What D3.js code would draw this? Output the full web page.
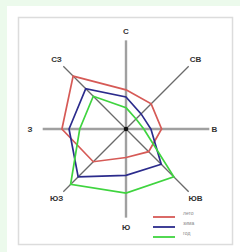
<!DOCTYPE html>
<html>
<head>
<meta charset="utf-8">
<script src="https://cdn.jsdelivr.net/npm/d3@7"></script>
<style>
  html, body { margin: 0; padding: 0; background: #ecfaec; }
  #chart { width: 240px; height: 252px; }
  text { font-family: "Liberation Sans", Arial, sans-serif; }
</style>
</head>
<body>
<div id="chart"></div>
<script>
  // Wind rose, % of observations by direction
  var directions = ["С", "СВ", "В", "ЮВ", "Ю", "ЮЗ", "З", "СЗ"];
  var summer = [11, 10, 10, 9, 8, 13, 18, 21];   // лето
  var winter = [9, 6, 7, 14, 13, 19, 16, 16];     // зима
  var year   = [6, 4, 5, 19, 18, 22, 13, 13];     // год
  var seriesNames = ["лето", "зима", "год"];
  var seriesColors = ["#d65a56", "#2b2b8c", "#3fd43f"];

  var width = 240, height = 252;
  var cx = 126, cy = 129;

  var svg = d3.select("#chart").append("svg")
      .attr("width", width)
      .attr("height", height);

  // white panel + framed box
  svg.append("rect")
    .attr("x", 7).attr("y", 6)
    .attr("width", width - 7).attr("height", height - 6)
    .attr("fill", "#fff");
  svg.append("rect")
    .attr("x", 18.5).attr("y", 17.5)
    .attr("width", 214).attr("height", 227)
    .attr("fill", "#fff")
    .attr("stroke", "#dcdcdc")
    .attr("stroke-width", 1.5);

  var r = d3.scaleLinear().domain([0, 25]).range([0, 89]);
  var angle = d3.scalePoint().domain(directions).range([0, 2 * Math.PI * 7 / 8]);

  var g = svg.append("g").attr("transform", "translate(" + cx + "," + cy + ")");

  const px = (d, v) => r(v) * Math.sin(angle(d));
  const py = (d, v) => -r(v) * Math.cos(angle(d));
  // east-west axis is drawn a little shorter
  const axisLen = d => (d === "В" || d === "З") ? 23.4 : 24.9;
  const labelPos = d => d === "В" ? 24.8 : (d === "З" ? 27 : 27.6);

  g.selectAll(".axis")
    .data(directions)
    .enter().append("line")
      .attr("class", "axis")
      .attr("x1", 0).attr("y1", 0)
      .attr("x2", d => px(d, axisLen(d)))
      .attr("y2", d => py(d, axisLen(d)))
      .attr("stroke", (d, i) => i % 2 ? "#6a6a6a" : "#a0a0a0")
      .attr("stroke-width", (d, i) => i % 2 ? 1.3 : 2.4);

  g.selectAll(".dir")
    .data(directions)
    .enter().append("text")
      .attr("class", "dir")
      .attr("x", d => px(d, labelPos(d)))
      .attr("y", d => py(d, labelPos(d)))
      .attr("dy", "0.35em")
      .attr("text-anchor", "middle")
      .attr("font-size", 8)
      .attr("font-weight", "bold")
      .attr("fill", "#333")
      .text(d => d);

  var line = d3.lineRadial()
      .angle(d => angle(d.dir))
      .radius(d => r(d.v))
      .curve(d3.curveLinearClosed);

  [summer, winter, year].forEach((vals, k) => {
    g.append("path")
      .datum(directions.map((d, i) => ({dir: d, v: vals[i]})))
      .attr("d", line)
      .attr("fill", "none")
      .attr("stroke", seriesColors[k])
      .attr("stroke-width", 1.7)
      .attr("stroke-linejoin", "miter");
  });

  g.append("circle").attr("r", 2.3).attr("fill", "#111");

  // legend
  var legend = svg.append("g").attr("transform", "translate(153,217)");
  seriesNames.forEach((name, i) => {
    legend.append("line")
      .attr("x1", 0).attr("x2", 22)
      .attr("y1", i * 10).attr("y2", i * 10)
      .attr("stroke", seriesColors[i])
      .attr("stroke-width", 1.8);
    legend.append("text")
      .attr("x", 30).attr("y", i * 10 - 2)
      .attr("font-size", 5)
      .attr("fill", "#888")
      .text(name);
  });
</script>
</body>
</html>
